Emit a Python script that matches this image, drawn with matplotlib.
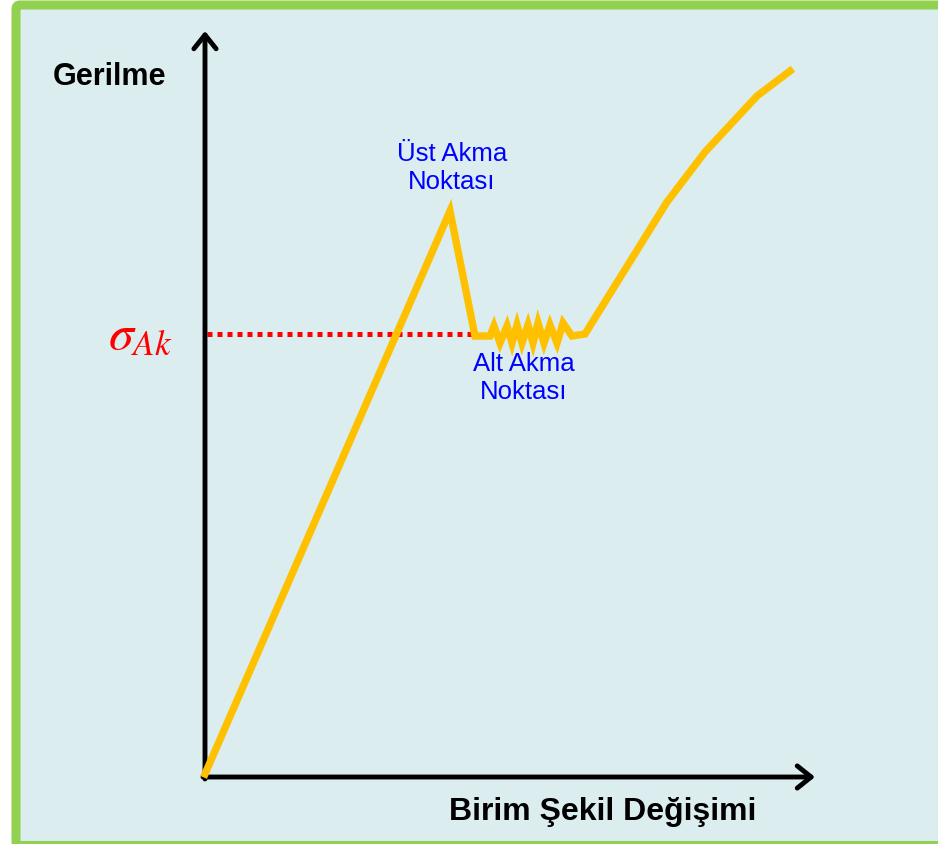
import matplotlib.pyplot as plt
from matplotlib.patches import FancyBboxPatch

plt.rcParams['font.family'] = ['Liberation Sans', 'DejaVu Sans']
plt.rcParams['mathtext.fontset'] = 'stix'

# gerilme - birim şekil değişimi eğrisi (akma bölgesindeki dalgalanma dahil)
strain = [0, 245, 270, 285, 289, 295, 302, 307, 312, 317, 323, 328, 333, 339, 345, 352, 358,
          367, 380, 462, 500, 552, 585]
stress = [3, 566, 441, 441, 451, 434, 451, 434, 452, 434, 452, 434, 454, 434, 452, 434, 454,
          441, 443, 575, 625, 681, 706]
yield_level = 443
yield_end = 270

y_label = 'Gerilme'
x_label = 'Birim Şekil Değişimi'
upper_label = 'Üst Akma\nNoktası'
lower_label = 'Alt Akma\nNoktası'

fig = plt.figure(figsize=(9.38, 8.45), dpi=100)
ax = fig.add_axes([0, 0, 1, 1])
ax.set_xlim(-205, 733)
ax.set_ylim(-67, 778)
ax.axis('off')

# çerçeve
frame = FancyBboxPatch((-189, -68.5), 1000, 840.5, boxstyle='round,pad=0,rounding_size=4',
                       facecolor='#DBEDEF', edgecolor='#92D050', linewidth=6.5, zorder=0,
                       clip_on=False)
ax.add_patch(frame)

# eksenler
arrow = dict(arrowstyle='->,head_length=0.5,head_width=0.4', lw=3.5, color='black',
             shrinkA=0, shrinkB=0, mutation_scale=20)
ax.annotate('', xy=(0, 746), xytext=(0, -2), arrowprops=arrow, zorder=3)
ax.annotate('', xy=(610, 0), xytext=(-2, 0), arrowprops=arrow, zorder=3)

ax.plot([2, yield_end], [yield_level, yield_level], color='#FF0000', lw=3.6,
        linestyle=(0, (1, 1)), dash_capstyle='butt', zorder=2)
ax.plot(strain, stress, color='#FFC000', lw=5.3, solid_joinstyle='miter', zorder=4)

ax.text(-95, 701, y_label, fontsize=22, fontweight='bold', ha='center', va='center')
ax.text(398, -34, x_label, fontsize=23, fontweight='bold', ha='center', va='center')
ax.text(247, 610, upper_label, fontsize=18.5, color='#0000FF', ha='center', va='center')
ax.text(319, 400, lower_label, fontsize=18.5, color='#0000FF', ha='center', va='center')
ax.text(-65, 443, r'$\sigma_{Ak}$', fontsize=36, color='#FF0000', ha='center', va='center')

fig.savefig('out.png', dpi=100)
